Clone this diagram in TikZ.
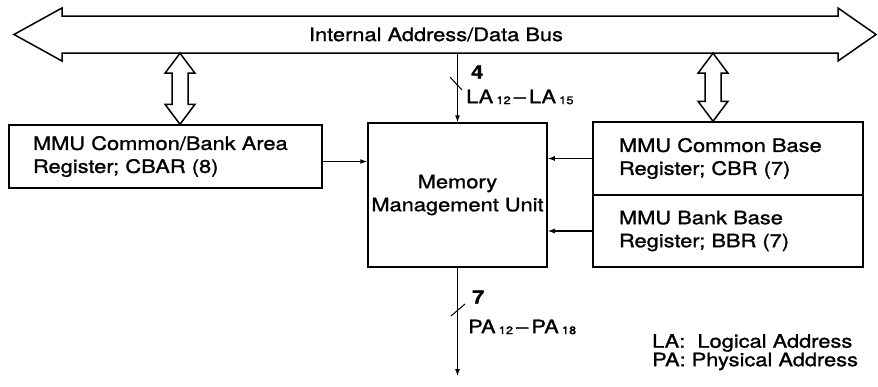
\documentclass[tikz,border=0pt]{standalone}
\usepackage{fontspec}
\setmainfont{TeX Gyre Heros}[FakeStretch=1.18, FakeBold=1.2]
\usetikzlibrary{positioning, arrows.meta, calc}

% small index numbers (LA12, PA18)
\newcommand\idx[1]{\,\raisebox{-1pt}{\fontsize{11}{11}\selectfont #1}}
% hollow two-headed arrow between two points
\newcommand\busarrow[2]{%
  \draw[hollow] let \p1=(#1), \p2=(#2) in
    (\x1,\y1) -- (\x1+15pt,\y1-20pt) -- (\x1+8pt,\y1-20pt) -- (\x1+8pt,\y2+20pt)
    -- (\x1+15pt,\y2+20pt) -- (\x1,\y2) -- (\x1-15pt,\y2+20pt) -- (\x1-8pt,\y2+20pt)
    -- (\x1-8pt,\y1-20pt) -- (\x1-15pt,\y1-20pt) -- cycle;}

\begin{document}
\begin{tikzpicture}[x=1pt, y=-1pt,
    font=\fontsize{18.5}{23}\selectfont,
    reg/.style={draw, line width=1.5pt, inner sep=0pt, align=left},
    link/.style={line width=1.2pt, -{Latex[length=7pt,width=5pt]}},
    hollow/.style={draw, line width=1.5pt, line join=miter}]
  \useasboundingbox (0,0) rectangle (878,386);

  % bus
  \draw[hollow] (62,16) -- (838,16) -- (838,8) -- (876,34.5) -- (838,61) -- (838,53)
    -- (62,53) -- (62,61) -- (14,34.5) -- (62,8) -- cycle;
  \node[inner sep=0pt, minimum width=700, minimum height=37] (bus) at (436,34.5) {Internal Address/Data Bus};

  % registers and MMU
  \node[reg, minimum width=313, minimum height=63, text width=265] (cbar) at (165.5,156.5)
    {MMU Common/Bank Area\\Register; CBAR (8)};
  \node[reg, align=center, minimum width=179, minimum height=144] (mmu) at (457.5,195)
    {Memory\\Management Unit};
  \node[reg, minimum width=270, minimum height=73, text width=218] (cbr) at (728,158.5)
    {MMU Common Base\\Register; CBR (7)};
  \node[reg, minimum width=270, minimum height=72, text width=218, below=-1.5pt of cbr] (bbr)
    {MMU Bank Base\\Register; BBR (7)};

  \busarrow{180,0 |- bus.south}{180,0 |- cbar.north}
  \busarrow{713,0 |- bus.south}{713,0 |- cbr.north}

  \draw[link] ([yshift=-5pt]cbar.east) -- ([yshift=-5pt]cbar.east -| mmu.west);
  \draw[link] (cbr.west) -- (cbr.west -| mmu.east);
  \draw[link] (bbr.west) -- (bbr.west -| mmu.east);

  % address lines
  \draw[link] (mmu.north |- bus.south) -- (mmu.north);
  \coordinate (paend) at (457.5,376);
  \draw[link] (mmu.south) -- (paend);
  \draw[line width=1pt] (450,77) -- (462,90);
  \draw[line width=1pt] (451,316) -- (465,304);
  \node[anchor=west, inner sep=0pt] (lawidth) at (471,72) {\bfseries 4};
  \node[anchor=west, inner sep=0pt] (lalbl) at (466,97) {LA\idx{12}\,--\,LA\idx{15}};
  \node[anchor=west, inner sep=0pt] (pawidth) at (472,297) {\bfseries 7};
  \node[anchor=west, inner sep=0pt] (palbl) at (468,327) {PA\idx{12}\,--\,PA\idx{18}};

  % legend
  \node[anchor=north west, align=left, inner sep=0pt, font=\fontsize{18.5}{16}\selectfont] (legend) at (652,334)
    {LA:\ \ Logical Address\\PA: Physical Address};
\end{tikzpicture}
\end{document}
